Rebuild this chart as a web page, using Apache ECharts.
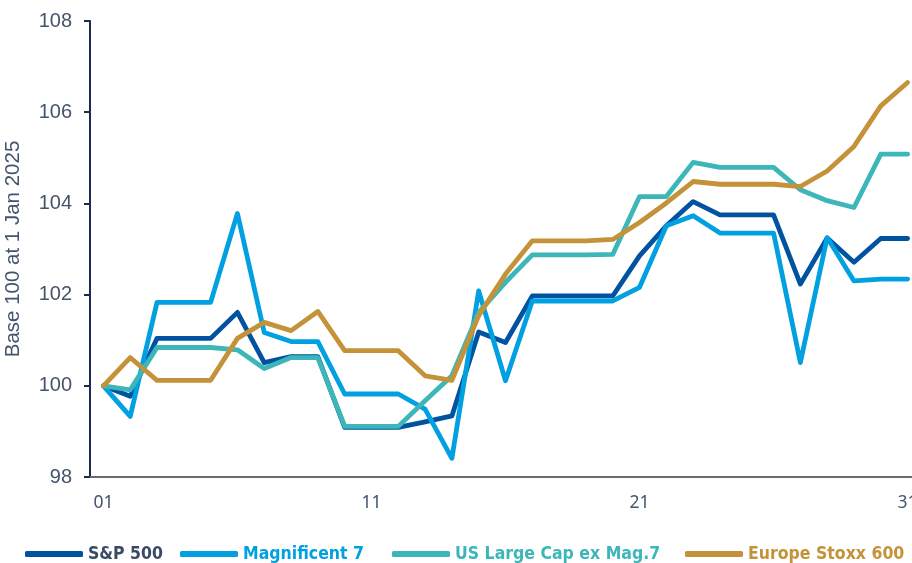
<!DOCTYPE html>
<html>
<head>
<meta charset="utf-8">
<script src="https://cdn.jsdelivr.net/npm/echarts@6/dist/echarts.min.js"></script>
<style>
  html, body { margin: 0; padding: 0; background: #fff; }
  #chart { width: 912px; height: 563px; }
</style>
</head>
<body>
<div id="chart"></div>
<script>
// days of January 2025
const days = ['01','02','03','04','05','06','07','08','09','10','11','12','13','14','15','16',
  '17','18','19','20','21','22','23','24','25','26','27','28','29','30','31'];

const sp500 = [100, 99.77, 101.04, 101.04, 101.04, 101.61, 100.51, 100.64, 100.64, 99.09, 99.09,
  99.09, 99.21, 99.34, 101.18, 100.95, 101.97, 101.97, 101.97, 101.97, 102.85, 103.51, 104.04,
  103.75, 103.75, 103.75, 102.23, 103.24, 102.71, 103.23, 103.23];
const mag7 = [100, 99.33, 101.83, 101.83, 101.83, 103.78, 101.17, 100.97, 100.97, 99.82, 99.82,
  99.82, 99.49, 98.41, 102.08, 100.11, 101.86, 101.86, 101.86, 101.86, 102.16, 103.51, 103.73,
  103.35, 103.35, 103.35, 100.51, 103.25, 102.30, 102.34, 102.34];
const usExMag7 = [100, 99.91, 100.84, 100.84, 100.84, 100.79, 100.38, 100.62, 100.62, 99.11, 99.11,
  99.11, 99.67, 100.22, 101.61, 102.27, 102.87, 102.87, 102.87, 102.88, 104.15, 104.15, 104.90,
  104.79, 104.79, 104.79, 104.30, 104.06, 103.91, 105.08, 105.08];
const stoxx600 = [100, 100.62, 100.12, 100.12, 100.12, 101.04, 101.39, 101.21, 101.63, 100.77, 100.77,
  100.77, 100.22, 100.12, 101.54, 102.45, 103.18, 103.18, 103.18, 103.21, 103.58, 104.01, 104.48,
  104.42, 104.42, 104.42, 104.37, 104.71, 105.25, 106.14, 106.65];

const names = ['S&P 500', 'Magnificent 7', 'US Large Cap ex Mag.7', 'Europe Stoxx 600'];
const colors = ['#0152a1', '#00a0e1', '#3db6b9', '#c49339'];
const textColors = ['#3a4a66', '#00a0e1', '#3db6b9', '#c49339'];
const values = [sp500, mag7, usExMag7, stoxx600];
const legendLeft = [20, 175, 387, 680]; //每个图例的左边位置

const axisText = '#44546c';

let chart = echarts.init(document.getElementById('chart'));
chart.setOption({
  animation: false,
  grid: { left: 90, right: -9, top: 21, bottom: 86, outerBoundsMode: 'none' },
  legend: names.map((n, i) => ({
    left: legendLeft[i],
    top: 540,
    itemWidth: 58,
    itemHeight: 6,
    icon: 'roundRect',
    data: [n],
    textStyle: {
      color: textColors[i],
      fontFamily: 'DejaVu Sans Condensed',
      fontWeight: 'bold',
      fontSize: 17.5
    }
  })),
  xAxis: {
    type: 'category',
    data: days,
    boundaryGap: true,
    axisLine: { lineStyle: { color: '#6b6b6b', width: 2 } },
    axisTick: {
      interval: i => i % 10 === 0,
      length: 6,
      lineStyle: { color: '#8a8a8a', width: 1 }
    },
    axisLabel: {
      interval: i => i % 10 === 0,
      color: axisText,
      fontFamily: 'Noto Sans',
      fontSize: 17.5,
      margin: 17
    }
  },
  yAxis: {
    type: 'value',
    min: 98,
    max: 108,
    interval: 2,
    name: 'Base 100 at 1 Jan 2025',
    nameLocation: 'middle',
    nameGap: 66,
    nameTextStyle: { color: axisText, fontFamily: 'Liberation Sans', fontSize: 20.5 },
    splitLine: { show: false },
    axisLine: { show: true, lineStyle: { color: '#1c2b4f', width: 2 } },
    axisTick: { show: true, length: 6, lineStyle: { color: '#1c2b4f', width: 2 } },
    axisLabel: { color: axisText, fontFamily: 'Liberation Sans', fontSize: 20, margin: 18 }
  },
  series: values.map((v, i) => ({
    type: 'line',
    name: names[i],
    data: v,
    symbol: 'none',
    color: colors[i],
    lineStyle: { width: 4.8, color: colors[i], cap: 'round', join: 'round' }
  }))
});
</script>
</body>
</html>
